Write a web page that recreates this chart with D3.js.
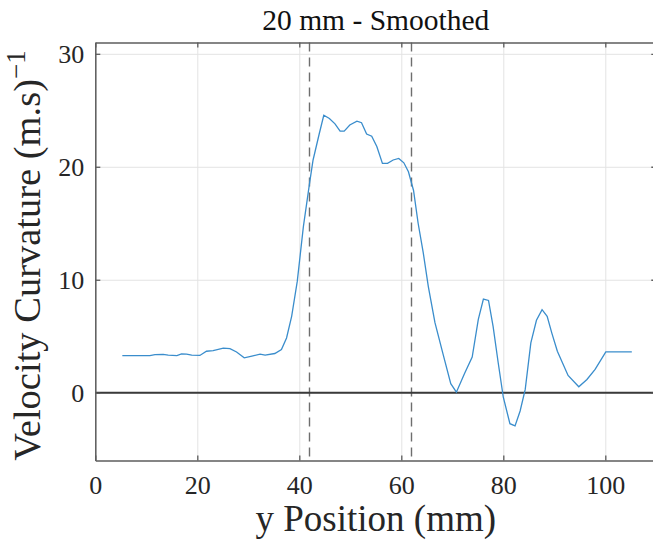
<!DOCTYPE html>
<html>
<head>
<meta charset="utf-8">
<script src="https://cdn.jsdelivr.net/npm/d3@7"></script>
<style>
  html, body { margin: 0; padding: 0; background: white; }
</style>
</head>
<body>
<div id="chart"></div>
<script>
// y position (mm) and smoothed velocity curvature
const positionMm = [5.3, 7, 9, 10.7, 11.7, 13.3, 14.3, 16.0, 16.9, 17.9, 18.9, 20.5, 21.8, 23.1,
  25.1, 26.4, 27.7, 29.2, 30.7, 32.3, 33.3, 35.2, 36.5, 37.5, 38.5, 39.6, 40.8, 42.0, 42.7,
  43.9, 44.8, 45.9, 47.0, 48.0, 48.8, 49.9, 51.3, 52.2, 53.2, 54.2, 55.2, 56.3, 57.3, 58.4,
  59.5, 60.5, 61.4, 62.4, 63.3, 64.3, 65.3, 66.6, 68.2, 69.7, 70.8, 72.4, 73.9, 75.1, 76.1,
  77.1, 78.0, 79.0, 80.0, 81.3, 82.3, 83.3, 84.3, 85.4, 86.5, 87.6, 88.6, 89.5, 90.6, 92.7,
  94.8, 96.4, 98.0, 100.1, 105.2];
const curvature = [3.29, 3.29, 3.29, 3.29, 3.37, 3.40, 3.33, 3.29, 3.44, 3.41, 3.32, 3.30, 3.67, 3.73,
  3.94, 3.90, 3.60, 3.09, 3.24, 3.41, 3.32, 3.47, 3.82, 4.85, 6.76, 9.85, 14.7, 18.5, 20.6,
  22.9, 24.56, 24.27, 23.8, 23.15, 23.15, 23.7, 24.03, 23.9, 22.9, 22.7, 21.8, 20.3, 20.3, 20.6,
  20.74, 20.35, 19.56, 17.9, 15.0, 12.4, 9.4, 6.2, 3.4, 0.8, 0.05, 1.7, 3.15, 6.5, 8.29,
  8.17, 5.88, 2.65, -0.4, -2.74, -2.94, -1.62, 0.29, 4.41, 6.41, 7.35, 6.76, 5.3, 3.67, 1.53,
  0.53, 1.17, 2.06, 3.62, 3.62];

const xTicks = [0, 20, 40, 60, 80, 100];
const yTicks = [0, 10, 20, 30];
const markerLines = [42, 62];
const xDomain = [0, 110];
const yDomain = [-6, 31];

const titleText = "20 mm - Smoothed";
const xLabelText = "y Position (mm)";
const yLabelText = "Velocity Curvature (m.s)";
const yLabelPower = "\u22121";

const width = 653;
const height = 546;
const margin = { top: 42.5, right: -3.3, bottom: 85.5, left: 95.3 };
const serif = "'Liberation Serif', 'DejaVu Serif', serif";

const svg = d3.select("#chart")
  .append("svg")
  .attr("width", width)
  .attr("height", height)
  .style("background-color", "white");

const x = d3.scaleLinear()
  .domain(xDomain)
  .range([margin.left, width - margin.right]);

const y = d3.scaleLinear()
  .domain(yDomain)
  .range([height - margin.bottom, margin.top]);

const plotW = x(xDomain[1]) - x(xDomain[0]);
const plotH = y(yDomain[0]) - y(yDomain[1]);

// grid
svg.append("g")
  .attr("transform", `translate(0,${y(yDomain[0])})`)
  .call(d3.axisBottom(x).tickValues(xTicks).tickSize(-plotH).tickFormat(""))
  .call(g => g.select(".domain").remove())
  .selectAll("line")
  .attr("stroke", "#e3e3e3");

svg.append("g")
  .attr("transform", `translate(${x(xDomain[0])},0)`)
  .call(d3.axisLeft(y).tickValues(yTicks).tickSize(-plotW).tickFormat(""))
  .call(g => g.select(".domain").remove())
  .selectAll("line")
  .attr("stroke", "#e3e3e3");

// dashed markers
svg.selectAll(".marker")
  .data(markerLines)
  .enter()
  .append("line")
  .attr("class", "marker")
  .attr("x1", d => x(d))
  .attr("x2", d => x(d))
  .attr("y1", y(yDomain[1]))
  .attr("y2", y(yDomain[0]))
  .attr("stroke", "#6e6e6e")
  .attr("stroke-width", 1.4)
  .attr("stroke-dasharray", "9,6");

// zero line
svg.append("line")
  .attr("x1", x(xDomain[0]))
  .attr("x2", x(xDomain[1]))
  .attr("y1", y(0))
  .attr("y2", y(0))
  .attr("stroke", "#3a3a3a")
  .attr("stroke-width", 2);

// curve
const pts = positionMm.map((p, i) => [p, curvature[i]]);
svg.append("path")
  .datum(pts)
  .attr("fill", "none")
  .attr("stroke", "#3a8dcc")
  .attr("stroke-width", 1.3)
  .attr("d", d3.line().x(d => x(d[0])).y(d => y(d[1])));

// axes
const axisColor = "#5c5c5c";
function styleAxis(g) {
  g.select(".domain").attr("stroke", axisColor).attr("stroke-width", 1.5);
  g.selectAll(".tick line").attr("stroke", axisColor).attr("stroke-width", 1.3);
  g.attr("font-family", serif).attr("font-size", 26);
  g.selectAll(".tick text").attr("fill", "#262626");
}

svg.append("g")
  .attr("transform", `translate(0,${y(yDomain[0])})`)
  .call(d3.axisBottom(x).tickValues(xTicks).tickSize(-5).tickSizeOuter(0).tickPadding(15.5))
  .call(styleAxis);

svg.append("g")
  .attr("transform", `translate(0,${y(yDomain[1])})`)
  .call(d3.axisTop(x).tickValues(xTicks).tickSize(-5).tickSizeOuter(0).tickFormat(""))
  .call(styleAxis);

svg.append("g")
  .attr("transform", `translate(${x(xDomain[0])},0)`)
  .call(d3.axisLeft(y).tickValues(yTicks).tickSize(-5).tickSizeOuter(0).tickPadding(11))
  .call(styleAxis);

svg.append("g")
  .attr("transform", `translate(${x(xDomain[1])},0)`)
  .call(d3.axisRight(y).tickValues(yTicks).tickSize(-5).tickSizeOuter(0).tickFormat(""))
  .call(styleAxis);

// title
svg.append("text")
  .attr("x", (x(xDomain[0]) + x(xDomain[1])) / 2)
  .attr("y", 29.5)
  .attr("text-anchor", "middle")
  .attr("font-family", serif)
  .attr("font-size", 29.5)
  .attr("fill", "#111")
  .text(titleText);

// x label
svg.append("text")
  .attr("x", (x(xDomain[0]) + x(xDomain[1])) / 2)
  .attr("y", 531)
  .attr("text-anchor", "middle")
  .attr("font-family", serif)
  .attr("font-size", 37)
  .attr("fill", "#262626")
  .text(xLabelText);

// y label
const yl = svg.append("text")
  .attr("transform", `translate(40,${(y(yDomain[0]) + y(yDomain[1])) / 2 + 4}) rotate(-90)`)
  .attr("text-anchor", "middle")
  .attr("font-family", serif)
  .attr("font-size", 38.5)
  .attr("fill", "#262626");
yl.append("tspan").text(yLabelText);
yl.append("tspan")
  .attr("dy", -15)
  .attr("font-size", 27)
  .text(yLabelPower);
</script>
</body>
</html>
